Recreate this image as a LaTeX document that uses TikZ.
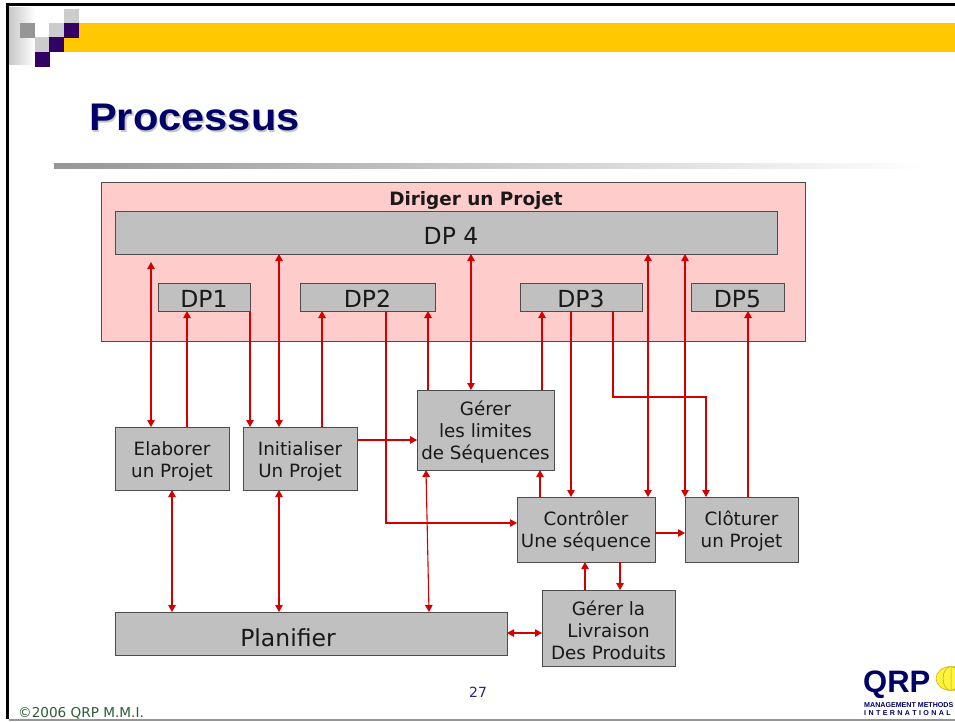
\documentclass[tikz,border=0pt]{standalone}
\usepackage{fontspec}
\setmainfont{DejaVu Sans}
\newfontfamily\arialf{Liberation Sans}
\usetikzlibrary{arrows.meta}
\definecolor{boxgray}{HTML}{C0C0C0}
\definecolor{pinkbg}{HTML}{FFCCCC}
\definecolor{redline}{HTML}{D40000}
\definecolor{barya}{HTML}{FFC800}
\definecolor{purp}{HTML}{330066}
\definecolor{navy}{HTML}{000066}
\definecolor{lgray}{HTML}{CCCCCC}
\definecolor{mgray}{HTML}{969696}
\definecolor{foot}{HTML}{2F5B3A}
\tikzset{
  x=1pt,y=-1pt,
  procbox/.style={draw=black!70,line width=1pt,fill=boxgray,anchor=north west,inner sep=0pt,outer sep=0pt,align=center,text=black!90,font=\fontsize{18.3}{22}\selectfont},
  dpbox/.style={procbox,font=\fontsize{23.5}{26}\selectfont},
  link/.style={draw=redline,line width=1.1pt},
  one/.style={link,-{Triangle[length=7pt,width=7.5pt]}},
  both/.style={link,{Triangle[length=7pt,width=7.5pt]}-{Triangle[length=7pt,width=7.5pt]}},
  sq/.style={fill=#1,draw=none},
  pagetitle/.style={anchor=base west,inner sep=0pt,xscale=1.08,font=\arialf\bfseries\fontsize{38.5}{40}\selectfont},
}
\newcommand{\pbox}[7][procbox]{\node[#1,minimum width=#5-#3,minimum height=#6-#4] (#2) at (#3,#4) {#7};}
\newcommand{\upad}[1]{\rule{0pt}{#1pt}}
\begin{document}
\begin{tikzpicture}
\useasboundingbox (0,0) rectangle (955,722);
\fill[white] (0,0) rectangle (955,722);
% page frame
\fill[black] (6,3) rectangle (955,6);
\fill[black] (6,3) rectangle (9,719);
\fill[mgray] (9,719) rectangle (955,720.5);
% header
\shade[left color=black!22,right color=white] (9,8) rectangle (35,65);
\fill[barya] (64,23) rectangle (955,52);
\fill[sq=lgray] (64,9) rectangle (79,23);
\fill[sq=mgray] (20,23) rectangle (35,38);
\fill[sq=lgray] (49,23) rectangle (64,38);
\fill[sq=purp] (64,23) rectangle (79,38);
\fill[sq=lgray] (35,37) rectangle (49,52);
\fill[sq=purp] (49,37) rectangle (64,52);
\fill[sq=purp] (35,52) rectangle (50,67);
% title
\node[pagetitle,text=black!22] (titleshadow) at (90.5,132.5) {Processus};
\node[pagetitle,text=navy] (title) at (89,131) {Processus};
\shade[left color=mgray,right color=white] (54,164) rectangle (925,169);
% pink panel
\node[draw=black!70,line width=1pt,fill=pinkbg,anchor=north west,inner sep=0pt,outer sep=0pt,minimum width=704,minimum height=158] (panel) at (101,183) {};
\node[anchor=base,inner sep=0pt,font=\bfseries\fontsize{18.4}{20}\selectfont,text=black!90] (paneltitle) at (476,205) {Diriger un Projet};
% boxes
\pbox[dpbox]{dpf}{115}{211}{777}{254}{\upad{23}\hspace*{10pt}DP 4}
\pbox[dpbox]{dpa}{158}{283}{250}{311}{\upad{20.5}DP1}
\pbox[dpbox]{dpb}{300}{283}{435}{311}{\upad{20.5}DP2}
\pbox[dpbox]{dpc}{520}{283}{642}{311}{\upad{20.5}DP3}
\pbox[dpbox]{dpe}{691}{283}{784}{311}{\upad{20.5}DP5}
\pbox{elab}{115}{427}{229}{490}{\upad{20}Elaborer\\un Projet}
\pbox{init}{243}{427}{357}{490}{\upad{20}Initialiser\\Un Projet}
\pbox{lim}{417}{390}{554}{470}{\upad{19}Gérer\\les limites\\de Séquences}
\pbox{ctrl}{517}{497}{655}{562}{\upad{18}Contrôler\\Une séquence}
\pbox{clot}{685}{497}{798}{562}{\upad{18}Clôturer\\un Projet}
\pbox[dpbox]{plan}{115}{612}{507}{655}{\upad{26}Planifier\hspace*{46pt}}
\pbox{livr}{542}{590}{675}{666}{\upad{19}Gérer la\\Livraison\\Des Produits}
% guides
\foreach \g in {151,172,187,250,279,322,386,428,471,542,571,613,648,685,706,748,540,585,620}{\coordinate (x\g) at (\g,0);}
\foreach \g in {397,440,523,533,633}{\coordinate (y\g) at (0,\g);}
\coordinate (xlimb) at (426,0);
\coordinate (xlimc) at (429,0);
\coordinate (freetop) at (151,262);
% connectors
\draw[both] (freetop) -- (elab.north -| x151);
\draw[one] (elab.north -| x187) -- (dpa.south -| x187);
\draw[one] (dpa.south -| x250) -- (init.north -| x250);
\draw[both] (dpf.south -| x279) -- (init.north -| x279);
\draw[one] (init.north -| x322) -- (dpb.south -| x322);
\draw[one] (init.east |- y440) -- (lim.west |- y440);
\draw[one] (dpb.south -| x386) -- (y523 -| x386) -- (ctrl.west |- y523);
\draw[one] (lim.north -| x428) -- (dpb.south -| x428);
\draw[both] (dpf.south -| x471) -- (lim.north -| x471);
\draw[one] (lim.north -| x542) -- (dpc.south -| x542);
\draw[one] (dpc.south -| x571) -- (ctrl.north -| x571);
\draw[one] (dpc.south -| x613) -- (y397 -| x613) -- (y397 -| x706) -- (clot.north -| x706);
\draw[both] (dpf.south -| x648) -- (ctrl.north -| x648);
\draw[both] (dpf.south -| x685) -- (clot.north -| x685);
\draw[one] (clot.north -| x748) -- (dpe.south -| x748);
\draw[one] (ctrl.east |- y533) -- (clot.west |- y533);
\draw[one] (ctrl.north -| x540) -- (lim.south -| x540);
\draw[both] (elab.south -| x172) -- (plan.north -| x172);
\draw[both] (init.south -| x279) -- (plan.north -| x279);
\draw[both] (lim.south -| xlimb) -- (plan.north -| xlimc);
\draw[both] (plan.east |- y633) -- (livr.west |- y633);
\draw[one] (livr.north -| x585) -- (ctrl.south -| x585);
\draw[one] (ctrl.south -| x620) -- (livr.north -| x620);
% footer
\node[anchor=base,inner sep=0pt,text=navy!85,font=\fontsize{14}{16}\selectfont] (pagenum) at (478,697) {27};
\node[anchor=base west,inner sep=0pt,text=foot,font=\fontsize{13.6}{15}\selectfont] (copy) at (18,717) {©2006 QRP M.M.I.};
% logo
\fill[yellow!75!white] (951,678.5) ellipse (15 and 12);
\begin{scope}
\clip (930,660) rectangle (955,700);
\draw[barya!80!black,line width=.5pt] (951,666.5) -- (951,690.5) (951,678.5) ellipse (8 and 12) (951,678.5) ellipse (15 and 12);
\end{scope}
\node[anchor=base west,inner sep=0pt,text=navy,font=\arialf\bfseries\fontsize{31}{32}\selectfont] (qrp) at (863,692) {QRP};
\node[anchor=base west,inner sep=0pt,text=navy,font=\arialf\bfseries\fontsize{7.1}{8}\selectfont] (mm) at (864,707) {MANAGEMENT METHODS};
\node[anchor=base west,inner sep=0pt,text=navy,font=\arialf\bfseries\fontsize{7.1}{8}\selectfont] (intl) at (864,715.5) {I\,\,N\,\,T\,\,E\,\,R\,\,N\,\,A\,\,T\,\,I\,\,O\,\,N\,\,A\,\,L};
\end{tikzpicture}
\end{document}
